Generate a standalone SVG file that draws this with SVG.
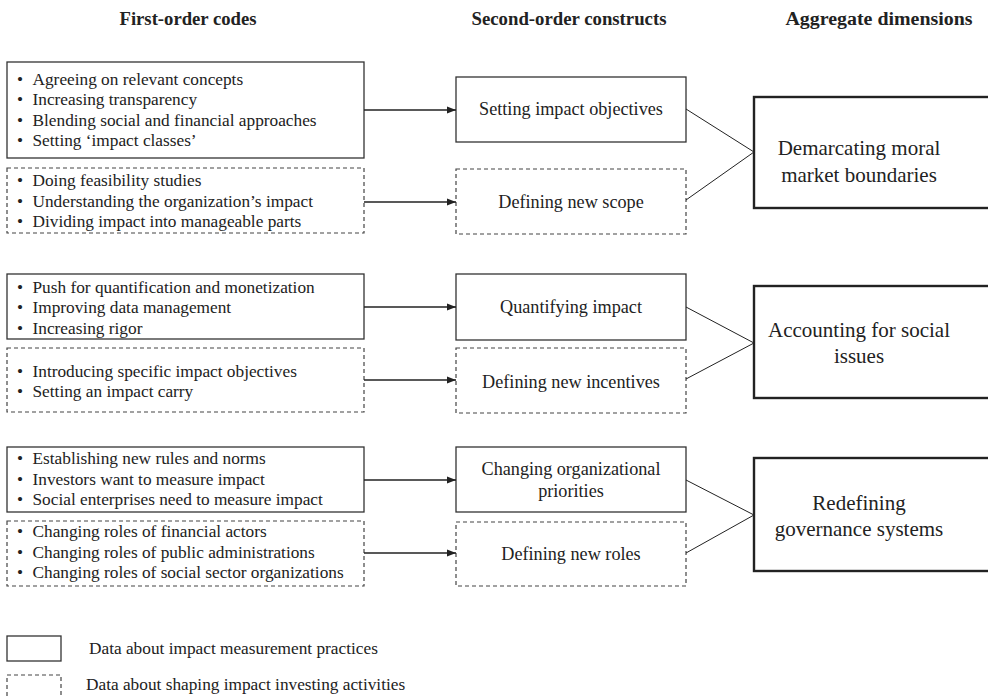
<svg xmlns="http://www.w3.org/2000/svg" width="988" height="698" viewBox="0 0 988 698">
<style>
  text { font-family: "Liberation Serif", "Times New Roman", serif; fill: #222; }
  .hdr { font-size: 18px; font-weight: bold; }
  .code { font-size: 17.3px; }
  .mid { font-size: 18.2px; text-anchor: middle; }
  .agg { font-size: 21px; text-anchor: middle; }
  .leg { font-size: 17.3px; }
  .solid { fill: #fff; stroke: #333; stroke-width: 1.3; }
  .dash { fill: #fff; stroke: #444; stroke-width: 1.2; stroke-dasharray: 4 3; }
  .aggbox { fill: #fff; stroke: #222; stroke-width: 2.4; }
  .arr { stroke: #222; stroke-width: 1.4; fill: none; marker-end: url(#ah); }
  .ln { stroke: #222; stroke-width: 1; fill: none; }
</style>
<defs>
  <marker id="ah" markerWidth="10" markerHeight="8" refX="9" refY="4" orient="auto" markerUnits="userSpaceOnUse">
    <path d="M0,0.5 L9,4 L0,7.5 Z" fill="#222"/>
  </marker>
</defs>
<rect width="988" height="698" fill="#fff"/>

<g id="headers">
  <text class="hdr" x="188" y="25" text-anchor="middle" textLength="137" lengthAdjust="spacingAndGlyphs">First-order codes</text>
  <text class="hdr" x="569" y="25" text-anchor="middle" textLength="195" lengthAdjust="spacingAndGlyphs">Second-order constructs</text>
  <text class="hdr" x="879" y="25" text-anchor="middle" textLength="187" lengthAdjust="spacingAndGlyphs">Aggregate dimensions</text>
</g>

<g id="f1">
  <rect class="solid" x="7" y="62" width="357" height="96"/>
  <text class="code"><tspan x="17" y="84.5">•</tspan><tspan x="32.5" y="84.5">Agreeing on relevant concepts</tspan></text>
  <text class="code"><tspan x="17" y="105">•</tspan><tspan x="32.5" y="105">Increasing transparency</tspan></text>
  <text class="code"><tspan x="17" y="125.5">•</tspan><tspan x="32.5" y="125.5">Blending social and financial approaches</tspan></text>
  <text class="code"><tspan x="17" y="146">•</tspan><tspan x="32.5" y="146">Setting ‘impact classes’</tspan></text>
</g>
<g id="f2">
  <rect class="dash" x="7" y="168" width="357" height="65"/>
  <text class="code"><tspan x="17" y="186">•</tspan><tspan x="32.5" y="186">Doing feasibility studies</tspan></text>
  <text class="code"><tspan x="17" y="206.5">•</tspan><tspan x="32.5" y="206.5">Understanding the organization’s impact</tspan></text>
  <text class="code"><tspan x="17" y="227">•</tspan><tspan x="32.5" y="227">Dividing impact into manageable parts</tspan></text>
</g>
<g id="f3">
  <rect class="solid" x="7" y="274" width="357" height="65"/>
  <text class="code"><tspan x="17" y="292.5">•</tspan><tspan x="32.5" y="292.5">Push for quantification and monetization</tspan></text>
  <text class="code"><tspan x="17" y="313">•</tspan><tspan x="32.5" y="313">Improving data management</tspan></text>
  <text class="code"><tspan x="17" y="333.5">•</tspan><tspan x="32.5" y="333.5">Increasing rigor</tspan></text>
</g>
<g id="f4">
  <rect class="dash" x="7" y="348" width="357" height="64"/>
  <text class="code"><tspan x="17" y="376.5">•</tspan><tspan x="32.5" y="376.5">Introducing specific impact objectives</tspan></text>
  <text class="code"><tspan x="17" y="397">•</tspan><tspan x="32.5" y="397">Setting an impact carry</tspan></text>
</g>
<g id="f5">
  <rect class="solid" x="7" y="447" width="357" height="65"/>
  <text class="code"><tspan x="17" y="464">•</tspan><tspan x="32.5" y="464">Establishing new rules and norms</tspan></text>
  <text class="code"><tspan x="17" y="484.5">•</tspan><tspan x="32.5" y="484.5">Investors want to measure impact</tspan></text>
  <text class="code"><tspan x="17" y="505">•</tspan><tspan x="32.5" y="505">Social enterprises need to measure impact</tspan></text>
</g>
<g id="f6">
  <rect class="dash" x="7" y="521" width="357" height="65"/>
  <text class="code"><tspan x="17" y="537">•</tspan><tspan x="32.5" y="537">Changing roles of financial actors</tspan></text>
  <text class="code"><tspan x="17" y="557.5">•</tspan><tspan x="32.5" y="557.5">Changing roles of public administrations</tspan></text>
  <text class="code"><tspan x="17" y="578">•</tspan><tspan x="32.5" y="578">Changing roles of social sector organizations</tspan></text>
</g>

<g id="s1">
  <rect class="solid" x="456" y="77" width="230" height="65"/>
  <text class="mid" x="571" y="115">Setting impact objectives</text>
</g>
<g id="s2">
  <rect class="dash" x="456" y="169" width="230" height="65"/>
  <text class="mid" x="571" y="208">Defining new scope</text>
</g>
<g id="s3">
  <rect class="solid" x="456" y="274" width="230" height="66"/>
  <text class="mid" x="571" y="313">Quantifying impact</text>
</g>
<g id="s4">
  <rect class="dash" x="456" y="348" width="230" height="65"/>
  <text class="mid" x="571" y="388">Defining new incentives</text>
</g>
<g id="s5">
  <rect class="solid" x="456" y="447" width="230" height="65"/>
  <text class="mid" x="571" y="475">Changing organizational</text>
  <text class="mid" x="571" y="497">priorities</text>
</g>
<g id="s6">
  <rect class="dash" x="456" y="522" width="230" height="64"/>
  <text class="mid" x="571" y="560">Defining new roles</text>
</g>

<g id="a1">
  <rect class="aggbox" x="754" y="97" width="245" height="111"/>
  <text class="agg" x="859" y="155">Demarcating moral</text>
  <text class="agg" x="859" y="182">market boundaries</text>
</g>
<g id="a2">
  <rect class="aggbox" x="754" y="286" width="245" height="112"/>
  <text class="agg" x="859" y="337">Accounting for social</text>
  <text class="agg" x="859" y="363">issues</text>
</g>
<g id="a3">
  <rect class="aggbox" x="754" y="458" width="245" height="113"/>
  <text class="agg" x="859" y="510">Redefining</text>
  <text class="agg" x="859" y="536">governance systems</text>
</g>

<g id="connectors">
  <line class="arr" x1="364" y1="110" x2="456" y2="110"/>
  <line class="arr" x1="364" y1="202" x2="456" y2="202"/>
  <line class="arr" x1="364" y1="307" x2="456" y2="307"/>
  <line class="arr" x1="364" y1="380" x2="456" y2="380"/>
  <line class="arr" x1="364" y1="480" x2="456" y2="480"/>
  <line class="arr" x1="364" y1="553" x2="456" y2="553"/>
  <line class="ln" x1="686" y1="109" x2="754" y2="152"/>
  <line class="ln" x1="686" y1="200" x2="754" y2="152"/>
  <line class="ln" x1="686" y1="307" x2="754" y2="343"/>
  <line class="ln" x1="686" y1="379" x2="754" y2="343"/>
  <line class="ln" x1="686" y1="480" x2="754" y2="515"/>
  <line class="ln" x1="686" y1="553" x2="754" y2="515"/>
</g>

<g id="legend">
  <rect class="solid" x="7" y="636" width="54" height="25"/>
  <rect class="dash" x="7" y="675" width="54" height="30"/>
  <text class="leg" x="89" y="654">Data about impact measurement practices</text>
  <text class="leg" x="86" y="690">Data about shaping impact investing activities</text>
</g>
</svg>
